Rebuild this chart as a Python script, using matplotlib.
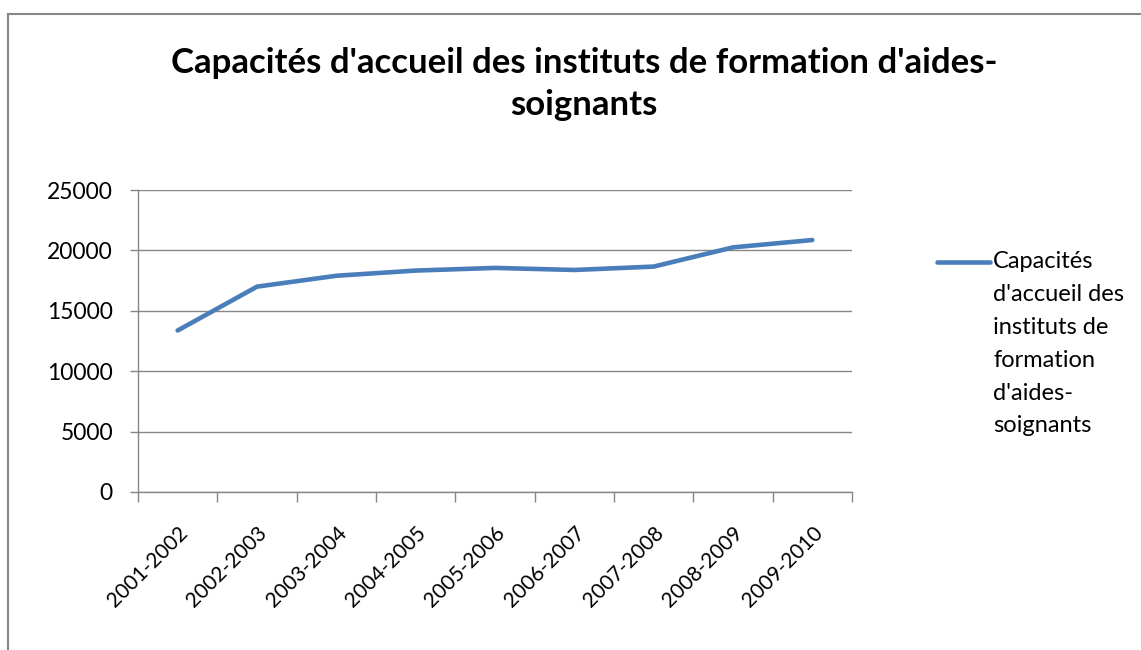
import matplotlib.pyplot as plt
from matplotlib.lines import Line2D
from matplotlib.patches import Rectangle

# data
years = ["2001-2002", "2002-2003", "2003-2004", "2004-2005", "2005-2006",
         "2006-2007", "2007-2008", "2008-2009", "2009-2010"]
capacites = [13370, 17000, 17900, 18330, 18550, 18380, 18660, 20250, 20860]

title = "Capacités d'accueil des instituts de formation d'aides-\nsoignants"
legend_label = "Capacités\nd'accueil des\ninstituts de\nformation\nd'aides-\nsoignants"

blue = "#4A7EBB"
grey = "#868686"

plt.rcParams['font.family'] = ['Lato', 'DejaVu Sans']

fig = plt.figure(figsize=(11.41, 6.5), dpi=100)
fig.add_artist(Rectangle((8 / 1141, -0.1), 1.2, 1 - 14 / 650 + 0.1,
                         transform=fig.transFigure, fill=False,
                         edgecolor=grey, linewidth=1.5))

ax = fig.add_axes([138 / 1141, 1 - 492 / 650, 714 / 1141, 302 / 650])

x = list(range(len(years)))
ax.plot(x, capacites, color=blue, linewidth=3.3, solid_capstyle='round')

ax.set_xlim(-0.5, len(years) - 0.5)
ax.set_ylim(0, 25000)
ax.set_yticks(range(0, 25001, 5000))
ax.set_xticks([i - 0.5 for i in range(len(years) + 1)], minor=False)
ax.set_xticklabels([])
ax.set_xticks(x, minor=True)
ax.set_xticklabels(years, minor=True, rotation=45, ha='right', va='top',
                   rotation_mode='anchor', fontsize=15)
ax.tick_params(axis='x', which='minor', length=0, pad=22)
ax.tick_params(axis='x', which='major', length=7, color=grey, width=1)
ax.tick_params(axis='y', length=6, color=grey, width=1, labelsize=16.5, pad=12)

ax.grid(axis='y', color=grey, linewidth=1)
ax.set_axisbelow(True)
for side in ['top', 'right']:
    ax.spines[side].set_visible(False)
for side in ['left', 'bottom']:
    ax.spines[side].set_color(grey)
    ax.spines[side].set_linewidth(1)

fig.text(584 / 1141, 1 - 84 / 650, title, ha='center', va='center',
         fontsize=25, fontweight='bold', linespacing=1.42)

# legend drawn by hand: line next to first text line
fig.add_artist(Line2D([937 / 1141, 990 / 1141], [1 - 262 / 650] * 2,
                      transform=fig.transFigure, color=blue, linewidth=3.3,
                      solid_capstyle='round'))
fig.text(993 / 1141, 1 - 251 / 650, legend_label, ha='left', va='top',
         fontsize=17, linespacing=1.7)

fig.savefig("out.png", dpi=100)
